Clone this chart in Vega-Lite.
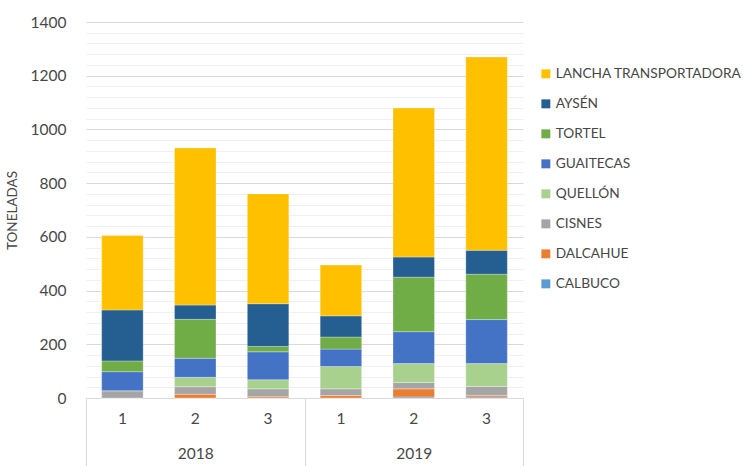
{
  "$schema": "https://vega.github.io/schema/vega-lite/v6.json",
  "autosize": {"type": "none"},
  "width": 437,
  "height": 376,
  "padding": {"left": 86, "top": 22, "right": 220, "bottom": 68},
  "config": {
    "font": "Lato",
    "view": {"stroke": null},
    "axis": {"labelColor": "#474747", "titleColor": "#474747", "labelFont": "Lato", "titleFont": "Lato"},
    "legend": {"labelColor": "#474747", "labelFont": "Lato"}
  },
  "data": {
    "values": [
      {"anio": "2018", "periodo": "2018-1", "serie": "CALBUCO", "ton": 0},
      {"anio": "2018", "periodo": "2018-1", "serie": "DALCAHUE", "ton": 0},
      {"anio": "2018", "periodo": "2018-1", "serie": "CISNES", "ton": 27},
      {"anio": "2018", "periodo": "2018-1", "serie": "QUELLÓN", "ton": 0},
      {"anio": "2018", "periodo": "2018-1", "serie": "GUAITECAS", "ton": 71},
      {"anio": "2018", "periodo": "2018-1", "serie": "TORTEL", "ton": 40},
      {"anio": "2018", "periodo": "2018-1", "serie": "AYSÉN", "ton": 190},
      {"anio": "2018", "periodo": "2018-1", "serie": "LANCHA TRANSPORTADORA", "ton": 277},
      {"anio": "2018", "periodo": "2018-2", "serie": "CALBUCO", "ton": 0},
      {"anio": "2018", "periodo": "2018-2", "serie": "DALCAHUE", "ton": 14},
      {"anio": "2018", "periodo": "2018-2", "serie": "CISNES", "ton": 28},
      {"anio": "2018", "periodo": "2018-2", "serie": "QUELLÓN", "ton": 35},
      {"anio": "2018", "periodo": "2018-2", "serie": "GUAITECAS", "ton": 71},
      {"anio": "2018", "periodo": "2018-2", "serie": "TORTEL", "ton": 145},
      {"anio": "2018", "periodo": "2018-2", "serie": "AYSÉN", "ton": 53},
      {"anio": "2018", "periodo": "2018-2", "serie": "LANCHA TRANSPORTADORA", "ton": 585},
      {"anio": "2018", "periodo": "2018-3", "serie": "CALBUCO", "ton": 0},
      {"anio": "2018", "periodo": "2018-3", "serie": "DALCAHUE", "ton": 5},
      {"anio": "2018", "periodo": "2018-3", "serie": "CISNES", "ton": 29},
      {"anio": "2018", "periodo": "2018-3", "serie": "QUELLÓN", "ton": 34},
      {"anio": "2018", "periodo": "2018-3", "serie": "GUAITECAS", "ton": 104},
      {"anio": "2018", "periodo": "2018-3", "serie": "TORTEL", "ton": 20},
      {"anio": "2018", "periodo": "2018-3", "serie": "AYSÉN", "ton": 159},
      {"anio": "2018", "periodo": "2018-3", "serie": "LANCHA TRANSPORTADORA", "ton": 409},
      {"anio": "2019", "periodo": "2019-1", "serie": "CALBUCO", "ton": 0},
      {"anio": "2019", "periodo": "2019-1", "serie": "DALCAHUE", "ton": 9},
      {"anio": "2019", "periodo": "2019-1", "serie": "CISNES", "ton": 25},
      {"anio": "2019", "periodo": "2019-1", "serie": "QUELLÓN", "ton": 83},
      {"anio": "2019", "periodo": "2019-1", "serie": "GUAITECAS", "ton": 65},
      {"anio": "2019", "periodo": "2019-1", "serie": "TORTEL", "ton": 45},
      {"anio": "2019", "periodo": "2019-1", "serie": "AYSÉN", "ton": 79},
      {"anio": "2019", "periodo": "2019-1", "serie": "LANCHA TRANSPORTADORA", "ton": 189},
      {"anio": "2019", "periodo": "2019-2", "serie": "CALBUCO", "ton": 4},
      {"anio": "2019", "periodo": "2019-2", "serie": "DALCAHUE", "ton": 30},
      {"anio": "2019", "periodo": "2019-2", "serie": "CISNES", "ton": 24},
      {"anio": "2019", "periodo": "2019-2", "serie": "QUELLÓN", "ton": 70},
      {"anio": "2019", "periodo": "2019-2", "serie": "GUAITECAS", "ton": 119},
      {"anio": "2019", "periodo": "2019-2", "serie": "TORTEL", "ton": 203},
      {"anio": "2019", "periodo": "2019-2", "serie": "AYSÉN", "ton": 75},
      {"anio": "2019", "periodo": "2019-2", "serie": "LANCHA TRANSPORTADORA", "ton": 555},
      {"anio": "2019", "periodo": "2019-3", "serie": "CALBUCO", "ton": 4},
      {"anio": "2019", "periodo": "2019-3", "serie": "DALCAHUE", "ton": 6},
      {"anio": "2019", "periodo": "2019-3", "serie": "CISNES", "ton": 33},
      {"anio": "2019", "periodo": "2019-3", "serie": "QUELLÓN", "ton": 85},
      {"anio": "2019", "periodo": "2019-3", "serie": "GUAITECAS", "ton": 164},
      {"anio": "2019", "periodo": "2019-3", "serie": "TORTEL", "ton": 169},
      {"anio": "2019", "periodo": "2019-3", "serie": "AYSÉN", "ton": 89},
      {"anio": "2019", "periodo": "2019-3", "serie": "LANCHA TRANSPORTADORA", "ton": 720}
    ]
  },
  "transform": [
    {"calculate": "indexof(['CALBUCO','DALCAHUE','CISNES','QUELLÓN','GUAITECAS','TORTEL','AYSÉN','LANCHA TRANSPORTADORA'], datum.serie)", "as": "orden"}
  ],
  "layer": [
    {
      "mark": {"type": "bar", "stroke": "#ffffff", "strokeWidth": 0.5, "strokeOpacity": 0.6},
      "encoding": {
        "x": {
          "field": "periodo",
          "type": "nominal",
          "scale": {"paddingInner": 0.43, "paddingOuter": 0.215},
          "axis": {
            "title": null,
            "orient": "bottom",
            "labelExpr": "split(datum.label, '-')[1]",
            "labelAngle": 0,
            "labelFontSize": 15.5,
            "labelPadding": 13,
            "ticks": false,
            "domainColor": "#d9d9d9",
            "domainWidth": 1
          }
        },
        "y": {
          "field": "ton",
          "type": "quantitative",
          "stack": "zero",
          "scale": {"domain": [0, 1400], "nice": false},
          "axis": {
            "title": "TONELADAS",
            "titleFontSize": 13.5,
            "titleFontWeight": "normal",
            "titlePadding": 11,
            "values": [0, 40, 80, 120, 160, 200, 240, 280, 320, 360, 400, 440, 480, 520, 560, 600, 640, 680, 720, 760, 800, 840, 880, 920, 960, 1000, 1040, 1080, 1120, 1160, 1200, 1240, 1280, 1320, 1360, 1400],
            "labelExpr": "datum.value % 200 === 0 ? datum.label : ''",
            "format": "d",
            "labelFontSize": 15.5,
            "labelPadding": 20,
            "ticks": false,
            "domain": false,
            "grid": true,
            "gridColor": {"condition": {"test": "datum.value % 200 === 0", "value": "#d9d9d9"}, "value": "#f0f0f0"},
            "gridWidth": 1
          }
        },
        "color": {
          "field": "serie",
          "type": "nominal",
          "scale": {
            "domain": ["LANCHA TRANSPORTADORA", "AYSÉN", "TORTEL", "GUAITECAS", "QUELLÓN", "CISNES", "DALCAHUE", "CALBUCO"],
            "range": ["#FFC000", "#255E91", "#70AD47", "#4472C4", "#A9D18E", "#A5A5A5", "#ED7D31", "#5B9BD5"]
          },
          "legend": {
            "title": null,
            "orient": "none",
            "legendX": 453,
            "legendY": 45,
            "symbolType": "square",
            "symbolSize": 80,
            "symbolStrokeWidth": 0,
            "labelFontSize": 13.7,
            "labelOffset": 3,
            "rowPadding": 15,
            "labelLimit": 300
          }
        },
        "order": {"field": "orden", "type": "quantitative", "sort": "ascending"}
      }
    },
    {
      "mark": {"type": "rule", "opacity": 0},
      "encoding": {
        "x": {
          "field": "anio",
          "type": "nominal",
          "scale": {"paddingInner": 0, "paddingOuter": 0},
          "axis": {
            "title": null,
            "orient": "bottom",
            "labelAngle": 0,
            "labelFontSize": 15.5,
            "domain": false,
            "tickBand": "extent",
            "tickSize": 68,
            "tickColor": "#d9d9d9",
            "labelPadding": -20,
            "offset": 0
          }
        }
      }
    }
  ],
  "resolve": {"scale": {"x": "independent"}, "axis": {"x": "independent"}}
}
